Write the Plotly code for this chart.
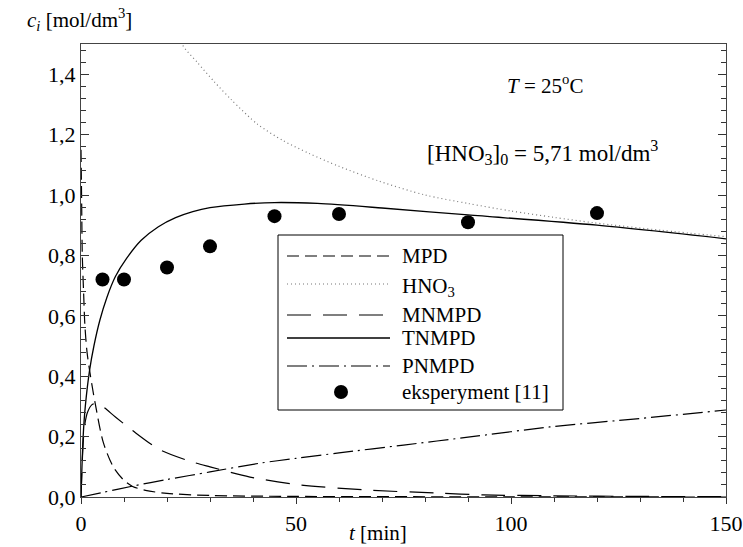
import plotly.graph_objects as go

# ---- data ----
t_mpd = [0, 0.15, 0.3, 0.6, 0.9, 1.4, 2.1, 3.3, 5.2, 7.5, 10, 12, 15, 20, 30, 50, 100, 150]
c_mpd = [1.15, 0.98, 0.8, 0.68, 0.57, 0.48, 0.41, 0.31, 0.18, 0.10, 0.055, 0.035, 0.022, 0.012, 0.005, 0.002, 0.0005, 0.0]

t_hno3 = [0, 5, 10, 15, 20, 23.5, 27, 31, 35, 41, 47, 53, 60, 69.5, 80, 90, 100, 110, 119.3, 135, 150]
c_hno3 = [5.71, 3.6, 2.6, 2.05, 1.68, 1.5, 1.44, 1.375, 1.315, 1.235, 1.18, 1.138, 1.095, 1.045, 1.0, 0.972, 0.947, 0.926, 0.908, 0.883, 0.862]

t_mnmpd = [0, 0.3, 0.6, 1.0, 1.5, 2.5, 3.5, 5, 8, 12, 18.4, 25, 30, 39.3, 51, 66.5, 83, 93.5, 110, 130, 150]
c_mnmpd = [0, 0.12, 0.2, 0.25, 0.28, 0.305, 0.31, 0.30, 0.265, 0.22, 0.156, 0.12, 0.10, 0.066, 0.04, 0.023, 0.013, 0.007, 0.004, 0.002, 0.001]

t_tnmpd = [0, 0.5, 1, 2, 3, 4.4, 6, 8, 10.6, 14, 18, 22, 26, 30, 38, 45, 55, 70, 90, 120, 150]
c_tnmpd = [0, 0.2, 0.3, 0.42, 0.5, 0.586, 0.66, 0.73, 0.79, 0.85, 0.895, 0.925, 0.945, 0.958, 0.97, 0.975, 0.972, 0.957, 0.934, 0.90, 0.855]

t_pnmpd = [0, 5, 12, 20, 30, 41.6, 50, 60, 75, 90, 109, 130, 150]
c_pnmpd = [0, 0.015, 0.036, 0.058, 0.083, 0.112, 0.128, 0.146, 0.172, 0.198, 0.232, 0.26, 0.288]

t_exp = [5, 10, 20, 30, 45, 60, 90, 120]
c_exp = [0.72, 0.72, 0.76, 0.83, 0.93, 0.937, 0.91, 0.94]

legend_labels = ["MPD", "HNO<sub>3</sub>", "MNMPD", "TNMPD", "PNMPD", "eksperyment [11]"]

FONT = "Liberation Serif"
W, H = 743, 547
L, R, T, B = 81, 726, 44, 497

def px(x):
    return (x - L) / (R - L)

def py(y):
    return (B - y) / (B - T)

styles = [
    dict(color="black", width=1.2, dash="12px,6px"),
    dict(color="#777777", width=1.2, dash="1px,3px"),
    dict(color="black", width=1.2, dash="24px,12px"),
    dict(color="black", width=1.3),
    dict(color="black", width=1.2, dash="20px,5px,2px,5px"),
]

fig = go.Figure()
series = [(t_mpd, c_mpd), (t_hno3, c_hno3), (t_mnmpd, c_mnmpd), (t_tnmpd, c_tnmpd), (t_pnmpd, c_pnmpd)]
for (tt, cc), st, name in zip(series, styles, legend_labels):
    fig.add_trace(go.Scatter(x=tt, y=cc, mode="lines", line=dict(**st, shape="spline", smoothing=0.8),
                             name=name, showlegend=False, hoverinfo="skip"))
fig.add_trace(go.Scatter(x=t_exp, y=c_exp, mode="markers", name=legend_labels[5],
                         marker=dict(color="black", size=14), showlegend=False, hoverinfo="skip"))

# custom legend box
shapes = [dict(type="rect", xref="paper", yref="paper", x0=px(278), x1=px(563),
               y0=py(410), y1=py(235), line=dict(color="black", width=1),
               fillcolor="white", layer="above")]
leg_y = [256, 284, 315, 338, 366, 392]
annotations = []
for i, yy in enumerate(leg_y):
    if i < 5:
        shapes.append(dict(type="line", xref="paper", yref="paper", x0=px(287), x1=px(390),
                           y0=py(yy), y1=py(yy), line=styles[i], layer="above"))
    else:
        shapes.append(dict(type="circle", xref="paper", yref="paper",
                           x0=px(341 - 7), x1=px(341 + 7), y0=py(yy + 7), y1=py(yy - 7),
                           fillcolor="black", line=dict(color="black", width=0), layer="above"))
    annotations.append(dict(xref="paper", yref="paper", x=px(400), y=py(yy + (3 if i == 1 else 0)),
                            text=legend_labels[i], showarrow=False, xanchor="left", yanchor="middle",
                            font=dict(family=FONT, size=21, color="black")))

annotations += [
    dict(xref="paper", yref="paper", x=px(505), y=py(84), xanchor="left", yanchor="middle",
         text="<i>T</i> = 25<sup>o</sup>C", showarrow=False, font=dict(family=FONT, size=21, color="black")),
    dict(xref="paper", yref="paper", x=px(425), y=py(152), xanchor="left", yanchor="middle",
         text="[HNO<sub>3</sub>]<sub>0</sub> = 5,71 mol/dm<sup>3</sup>", showarrow=False,
         font=dict(family=FONT, size=23, color="black")),
    dict(xref="paper", yref="paper", x=px(378), y=py(533), xanchor="center", yanchor="middle",
         text="<i>t</i> [min]", showarrow=False, font=dict(family=FONT, size=21, color="black")),
    dict(xref="paper", yref="paper", x=px(25), y=py(20), xanchor="left", yanchor="middle",
         text="<i>c<sub>i</sub></i> [mol/dm<sup>3</sup>]", showarrow=False,
         font=dict(family=FONT, size=21, color="black")),
]

fig.update_layout(
    width=W, height=H,
    margin=dict(l=L, r=W - R, t=T, b=H - B, autoexpand=False),
    paper_bgcolor="white", plot_bgcolor="white",
    separators=", ",
    font=dict(family=FONT, size=21, color="black"),
    shapes=shapes, annotations=annotations,
    showlegend=False,
)
fig.update_xaxes(range=[0, 150], tickvals=[0, 50, 100, 150], ticks="outside", ticklen=6,
                 tickcolor="#333", showgrid=False, zeroline=False, showline=True,
                 linecolor="#444", linewidth=1.2, mirror=True, automargin=False,
                 minor=dict(dtick=10, tick0=0, ticks="outside", ticklen=4, tickcolor="#333"),
                 tickfont=dict(family=FONT, size=22))
fig.update_yaxes(range=[0, 1.5], tickvals=[0, 0.2, 0.4, 0.6, 0.8, 1.0, 1.2, 1.4], tickformat=".1f",
                 ticks="inside", ticklen=8, tickcolor="#333", showgrid=False, zeroline=False,
                 showline=True, linecolor="#444", linewidth=1.2, mirror="ticks", automargin=False,
                 minor=dict(dtick=0.04, tick0=0, ticks="inside", ticklen=5, tickcolor="#333"),
                 tickfont=dict(family=FONT, size=22))

fig.write_html("out.html", config={"displayModeBar": False},
               post_script="document.body.style.margin='0';document.body.style.overflow='hidden';")
